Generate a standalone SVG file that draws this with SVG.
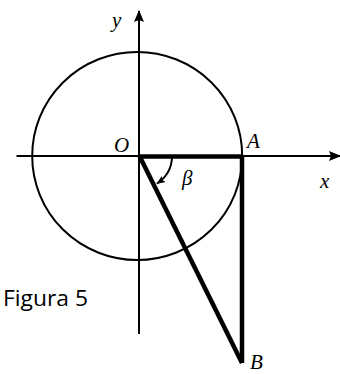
<svg xmlns="http://www.w3.org/2000/svg" width="340" height="374" viewBox="0 0 340 374">
<style>
.thin{stroke:#000;stroke-width:2;fill:none}
.thick{stroke:#000;stroke-width:4.5;fill:none;stroke-linejoin:miter}
.lbl{font-family:"Liberation Serif",serif;font-style:italic;font-size:21px;fill:#000}
.cap{font-family:"Open Sans","Liberation Sans",sans-serif;font-size:21px;fill:#000}
</style>
<defs>
<marker id="ah" viewBox="0 0 12 10" refX="11" refY="5" markerWidth="12" markerHeight="10" markerUnits="userSpaceOnUse" orient="auto">
<path d="M0,0 L12,5 L0,10 L2,5 Z" fill="#000"/>
</marker>
<marker id="ahs" viewBox="0 0 10 8" refX="9" refY="4" markerWidth="9" markerHeight="8" markerUnits="userSpaceOnUse" orient="auto">
<path d="M0,0 L10,4 L0,8 L2,4 Z" fill="#000"/>
</marker>
</defs>
<g id="circle"><ellipse cx="137.2" cy="156" rx="105" ry="104" class="thin"/></g>
<g id="connectors">
<line id="x-axis" x1="16.5" y1="156" x2="340" y2="156" class="thin" marker-end="url(#ah)"/>
<line id="y-axis" x1="139" y1="334" x2="139" y2="11" class="thin" marker-end="url(#ah)"/>
<line id="OA" x1="139" y1="156.5" x2="242" y2="156.5" class="thick"/>
<line id="AB" x1="242" y1="156" x2="242" y2="363" class="thick"/>
<line id="OB" x1="139.5" y1="156" x2="242" y2="363" class="thick"/>
<path id="beta-arc" d="M172,158 A33,33 0 0 1 157,183.5" class="thin" marker-end="url(#ahs)"/>
</g>
<g id="labels">
<text class="lbl" x="112" y="27">y</text>
<text class="lbl" x="114" y="152">O</text>
<text class="lbl" x="247" y="148">A</text>
<text class="lbl" x="320" y="188">x</text>
<text class="lbl" x="182" y="185">β</text>
<text class="lbl" x="250" y="369">B</text>
<text class="cap" x="3" y="306" textLength="85" lengthAdjust="spacingAndGlyphs">Figura 5</text>
</g>
</svg>
